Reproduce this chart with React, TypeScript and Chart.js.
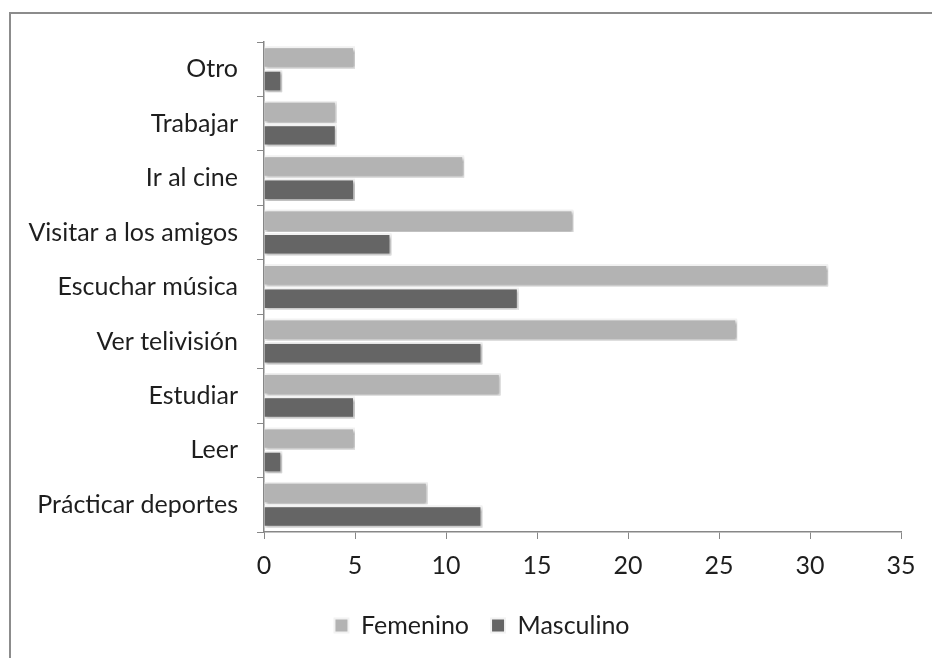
import React, { useEffect, useRef } from "react";
import { Chart, registerables } from "chart.js";

Chart.register(...registerables);

const categories = [
  "Otro",
  "Trabajar",
  "Ir al cine",
  "Visitar a los amigos",
  "Escuchar música",
  "Ver telivisión",
  "Estudiar",
  "Leer",
  "Prácticar deportes",
];
const femenino = [5, 4, 11, 17, 31, 26, 13, 5, 9];
const masculino = [1, 4, 5, 7, 14, 12, 5, 1, 12];
const seriesNames = ["Femenino", "Masculino"];
const xMin = 0;
const xMax = 35;
const xStep = 5;

const FONT = "Lato";
const FONT_SIZE = 25;
const TEXT = "#1e1e1e";
const AXIS = "#878787";
const PAD_LEFT = 10;
const PAD_RIGHT = 31;
const LEGEND_SHIFT = 26.5;

const framePlugin = {
  id: "frame",
  beforeDraw(chart: any) {
    const ctx = chart.ctx;
    ctx.save();
    ctx.fillStyle = "#8c8c8c";
    ctx.fillRect(9, 12, chart.width, 2);
    ctx.fillRect(9, 12, 2, chart.height);
    ctx.restore();
  },
};

const legendShiftPlugin = {
  id: "legendShift",
  afterLayout(chart: any) {
    if (chart.legend) {
      chart.legend.left += LEGEND_SHIFT;
      chart.legend.right += LEGEND_SHIFT;
    }
  },
};

const shadowPlugin = {
  id: "barShadow",
  beforeDatasetDraw(chart: any) {
    const ctx = chart.ctx;
    ctx.save();
    ctx.shadowColor = "rgba(0,0,0,0.32)";
    ctx.shadowOffsetX = 1.5;
    ctx.shadowOffsetY = 1.5;
    ctx.shadowBlur = 3;
  },
  afterDatasetDraw(chart: any) {
    chart.ctx.restore();
  },
};

export default function App() {
  const ref = useRef<HTMLCanvasElement | null>(null);

  useEffect(() => {
    if (!ref.current) return;
    const chart = new Chart(ref.current, {
      type: "bar",
      data: {
        labels: categories,
        datasets: [
          {
            label: seriesNames[0],
            data: femenino,
            backgroundColor: "#b3b3b3",
            borderColor: "#f2f2f2",
            borderWidth: 2,
            categoryPercentage: 0.86,
            barPercentage: 0.96,
          },
          {
            label: seriesNames[1],
            data: masculino,
            backgroundColor: "#656565",
            borderColor: "#f2f2f2",
            borderWidth: 2,
            categoryPercentage: 0.86,
            barPercentage: 0.96,
          },
        ],
      },
      options: {
        indexAxis: "y",
        animation: false,
        responsive: false,
        maintainAspectRatio: false,
        layout: { padding: { left: PAD_LEFT, right: PAD_RIGHT, top: 42, bottom: 10 } },
        scales: {
          x: {
            min: xMin,
            max: xMax,
            afterFit(scale: any) {
              scale.height -= 2;
            },
            ticks: {
              stepSize: xStep,
              color: TEXT,
              font: { family: FONT, size: FONT_SIZE },
              padding: 12,
            },
            grid: {
              drawOnChartArea: false,
              drawTicks: true,
              tickLength: 7,
              color: AXIS,
            },
            border: { color: AXIS, width: 1.5 },
          },
          y: {
            afterFit(scale: any) {
              scale.width = 264 - PAD_LEFT;
            },
            ticks: {
              color: TEXT,
              font: { family: FONT, size: FONT_SIZE },
              padding: 19,
            },
            grid: {
              drawOnChartArea: false,
              drawTicks: true,
              tickLength: 7,
              offset: true,
              color: AXIS,
            },
            border: { color: AXIS, width: 1.5 },
          },
        },
        plugins: {
          legend: {
            position: "bottom",
            labels: {
              color: TEXT,
              font: { family: FONT, size: FONT_SIZE },
              boxWidth: 14,
              boxHeight: 14,
              padding: 22,
            },
          },
          tooltip: { enabled: false },
        },
      },
      plugins: [framePlugin, legendShiftPlugin, shadowPlugin],
    });
    return () => chart.destroy();
  }, []);

  return (
    <div style={{ position: "fixed", left: 0, top: 0, width: 932, height: 658, background: "#fff" }}>
      <canvas ref={ref} width={932} height={658} style={{ display: "block", width: 932, height: 658 }} />
    </div>
  );
}
